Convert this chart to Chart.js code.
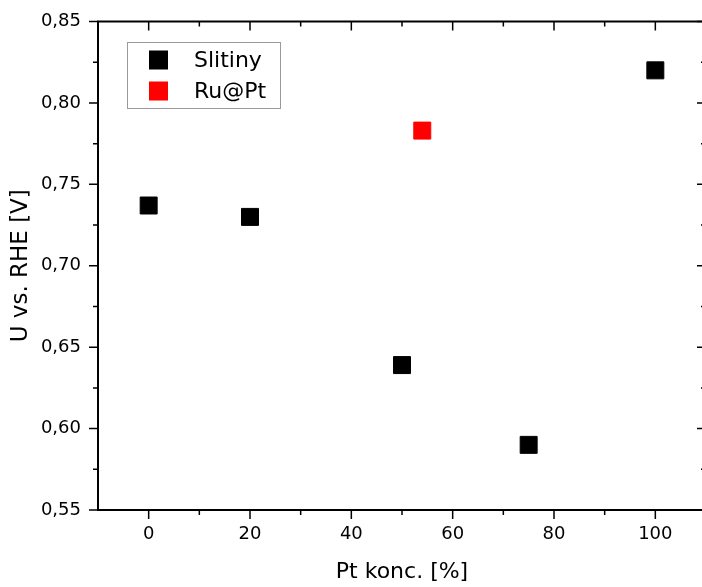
<!DOCTYPE html>
<html>
<head>
<meta charset="utf-8">
<script src="https://cdn.jsdelivr.net/npm/chart.js@4/dist/chart.umd.min.js"></script>
<style>
  html, body { margin: 0; padding: 0; background: #fff; overflow: hidden; }
  #grafica { display: block; }
</style>
</head>
<body>
<canvas id="grafica" width="708" height="587"></canvas>
<script>
const seriesNames = ['Slitiny', 'Ru@Pt'];
const colors = ['#000000', '#ff0000'];

const slitinyX = [0, 20, 50, 75, 100];
const slitinyY = [0.737, 0.730, 0.639, 0.590, 0.820];
const ruPtX = [54];
const ruPtY = [0.783];

const xTicks = [0, 20, 40, 60, 80, 100];
const xTickLabels = ['0', '20', '40', '60', '80', '100'];
const xMinor = [10, 30, 50, 70, 90];
const yTicks = [0.55, 0.60, 0.65, 0.70, 0.75, 0.80, 0.85];
const yTickLabels = ['0,55', '0,60', '0,65', '0,70', '0,75', '0,80', '0,85'];
const yMinor = [0.575, 0.625, 0.675, 0.725, 0.775, 0.825];

const font = 'DejaVu Sans';

const toPoints = (xs, ys) => xs.map((x, i) => ({ x: x, y: ys[i] }));

// frame with ticks: outward on left/bottom, inward on top/right
const framePlugin = {
    id: 'frame',
    beforeDatasetsDraw(chart) {
        const { ctx, chartArea: a, scales: { x, y } } = chart;
        ctx.save();
        ctx.strokeStyle = '#000';
        ctx.lineWidth = 1.5;
        ctx.beginPath();
        const tick = (len, list, scale, horiz) => {
            list.forEach(v => {
                const p = scale.getPixelForValue(v);
                if (horiz) {
                    ctx.moveTo(p, a.bottom); ctx.lineTo(p, a.bottom + len);
                    ctx.moveTo(p, a.top); ctx.lineTo(p, a.top + len);
                } else {
                    ctx.moveTo(a.left, p); ctx.lineTo(a.left - len, p);
                    ctx.moveTo(a.right, p); ctx.lineTo(a.right - len, p);
                }
            });
        };
        tick(9, xTicks, x, true);
        tick(5, xMinor, x, true);
        tick(9, yTicks, y, false);
        tick(5, yMinor, y, false);
        ctx.stroke();
        ctx.lineWidth = 2;
        ctx.strokeRect(a.left, a.top, a.right - a.left, a.bottom - a.top);
        ctx.restore();
    },
    afterDraw(chart) {
        // legend box inside the plot
        const { ctx } = chart;
        ctx.save();
        ctx.strokeStyle = '#9a9a9a';
        ctx.lineWidth = 1;
        ctx.strokeRect(127.5, 42.5, 153, 66);
        ctx.font = '22px "' + font + '"';
        ctx.textBaseline = 'middle';
        chart.data.datasets.forEach((ds, i) => {
            const cy = 60 + i * 31;
            ctx.fillStyle = ds.backgroundColor;
            ctx.fillRect(149, cy - 9.5, 19, 19);
            ctx.fillStyle = '#000';
            ctx.fillText(ds.label, 194, cy + 1);
        });
        ctx.restore();
    }
};

const data = {
    datasets: [
        {
            label: seriesNames[0],
            data: toPoints(slitinyX, slitinyY),
            backgroundColor: colors[0],
            borderColor: colors[0],
        },
        {
            label: seriesNames[1],
            data: toPoints(ruPtX, ruPtY),
            backgroundColor: colors[1],
            borderColor: colors[1],
        }
    ]
};

const config = {
    type: 'scatter',
    data: data,
    options: {
        responsive: false,
        devicePixelRatio: 1,
        animation: false,
        events: [],
        layout: { autoPadding: false, padding: { top: 21.5, right: 2, left: 0, bottom: 0 } },
        elements: {
            point: { pointStyle: 'rect', radius: 12, borderWidth: 1 }
        },
        plugins: {
            legend: { display: false },
            tooltip: { enabled: false }
        },
        scales: {
            x: {
                type: 'linear',
                position: 'bottom',
                min: -10,
                max: 110,
                afterBuildTicks: s => { s.ticks = xTicks.map(v => ({ value: v })); },
                afterFit: s => { s.height = 77; s.paddingLeft = 0; s.paddingRight = 0; },
                grid: { display: false, drawTicks: false },
                border: { display: false },
                ticks: {
                    padding: 14,
                    color: '#000',
                    font: { family: font, size: 18 },
                    callback: (v, i) => xTickLabels[i]
                },
                title: {
                    display: true,
                    text: 'Pt konc. [%]',
                    color: '#000',
                    font: { family: font, size: 22 },
                    padding: { top: 0, bottom: 2 }
                }
            },
            y: {
                type: 'linear',
                position: 'left',
                min: 0.55,
                max: 0.85,
                afterBuildTicks: s => { s.ticks = yTicks.map(v => ({ value: v })); },
                afterFit: s => { s.width = 98; s.paddingTop = 0; s.paddingBottom = 0; },
                grid: { display: false, drawTicks: false },
                border: { display: false },
                ticks: {
                    padding: 17,
                    color: '#000',
                    font: { family: font, size: 18 },
                    callback: (v, i) => yTickLabels[i]
                },
                title: {
                    display: true,
                    text: 'U vs. RHE [V]',
                    color: '#000',
                    font: { family: font, size: 23 },
                    padding: { top: 7, bottom: 0 }
                }
            }
        }
    },
    plugins: [framePlugin]
};

const myChart = new Chart(document.querySelector('#grafica'), config);
</script>
</body>
</html>
